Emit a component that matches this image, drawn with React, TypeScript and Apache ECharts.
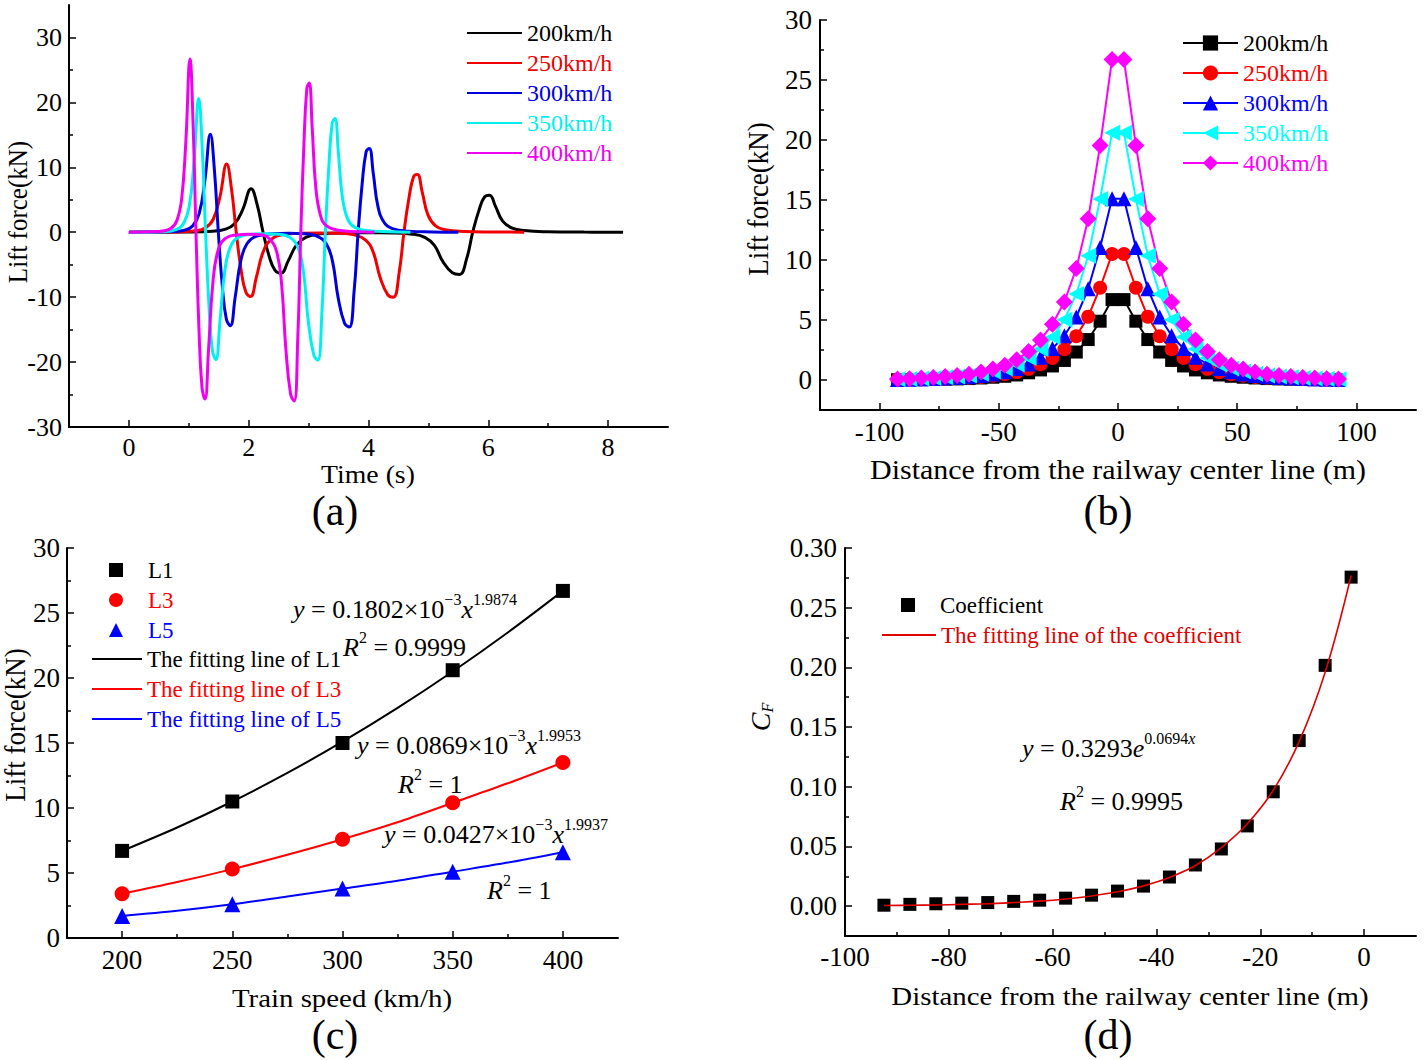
import React, { useEffect, useRef } from 'react';
import * as echarts from 'echarts';

const FONT = "'Liberation Serif','Times New Roman',Times,serif";

// ---------- (a) Lift force vs time ----------
const speeds = ['200km/h', '250km/h', '300km/h', '350km/h', '400km/h'];
const colors = ['#000000', '#ff0000', '#0000ff', '#00ffff', '#ff00ff'];
const colorsA = ['#000000', '#f00000', '#0000dd', '#00f0f0', '#f000f0'];

const t200 = [0, 1.0, 1.4, 1.6, 1.76, 1.9, 2.04, 2.14, 2.24, 2.34, 2.44, 2.54, 2.66, 2.8, 2.96, 3.2, 3.6, 4.0, 4.4, 4.7, 4.94, 5.1, 5.24, 5.4, 5.52, 5.64, 5.74, 5.84, 5.94, 6.02, 6.12, 6.24, 6.4, 6.6, 7.0, 7.6, 8.25];
const f200 = [0, 0.03, 0.15, 0.45, 1.27, 3.48, 6.7, 4.29, 0, -3.65, -5.86, -6.3, -4.41, -1.95, -0.76, -0.25, -0.1, -0.08, -0.1, -0.26, -0.78, -2.02, -4.49, -6.24, -6.5, -4.03, 0, 3.25, 5.47, 5.7, 3.99, 1.71, 0.63, 0.25, 0.07, 0.02, 0];
const t250 = [0, 0.8, 1.12, 1.28, 1.408, 1.52, 1.632, 1.712, 1.792, 1.872, 1.952, 2.032, 2.128, 2.24, 2.368, 2.56, 2.88, 3.2, 3.52, 3.76, 3.952, 4.08, 4.192, 4.32, 4.416, 4.512, 4.592, 4.672, 4.752, 4.816, 4.896, 4.992, 5.12, 5.28, 5.6, 6.08, 6.6];
const f250 = [0, 0.04, 0.23, 0.7, 2.0, 5.46, 10.5, 6.72, 0, -5.74, -9.21, -9.9, -6.93, -3.07, -1.19, -0.4, -0.16, -0.12, -0.15, -0.4, -1.2, -3.1, -6.9, -9.6, -10.0, -6.2, 0, 5.07, 8.54, 8.9, 6.23, 2.67, 0.98, 0.38, 0.12, 0.04, 0];
const t300 = [0, 0.667, 0.933, 1.067, 1.173, 1.267, 1.36, 1.427, 1.493, 1.56, 1.627, 1.693, 1.773, 1.867, 1.973, 2.133, 2.4, 2.667, 2.933, 3.133, 3.293, 3.4, 3.493, 3.6, 3.68, 3.76, 3.827, 3.893, 3.96, 4.013, 4.08, 4.16, 4.267, 4.4, 4.667, 5.067, 5.5];
const f300 = [0, 0.06, 0.33, 1.01, 2.87, 7.85, 15.1, 9.66, 0, -8.35, -13.39, -14.4, -10.08, -4.46, -1.73, -0.58, -0.23, -0.17, -0.22, -0.58, -1.75, -4.53, -10.07, -14.02, -14.6, -9.05, 0, 7.35, 12.38, 12.9, 9.03, 3.87, 1.42, 0.55, 0.17, 0.05, 0];
const t350 = [0, 0.571, 0.8, 0.914, 1.006, 1.086, 1.166, 1.223, 1.28, 1.337, 1.394, 1.451, 1.52, 1.6, 1.691, 1.829, 2.057, 2.286, 2.514, 2.686, 2.823, 2.914, 2.994, 3.086, 3.154, 3.223, 3.28, 3.337, 3.394, 3.44, 3.497, 3.566, 3.657, 3.771, 4.0, 4.343, 4.7];
const f350 = [0, 0.08, 0.45, 1.38, 3.91, 10.71, 20.6, 13.18, 0, -11.37, -18.23, -19.6, -13.72, -6.08, -2.35, -0.78, -0.31, -0.24, -0.3, -0.79, -2.36, -6.11, -13.59, -18.91, -19.7, -12.21, 0, 9.98, 16.8, 17.5, 12.25, 5.25, 1.93, 0.75, 0.23, 0.07, 0];
const t400 = [0, 0.5, 0.7, 0.8, 0.88, 0.95, 1.02, 1.07, 1.12, 1.17, 1.22, 1.27, 1.33, 1.4, 1.48, 1.6, 1.8, 2.0, 2.2, 2.35, 2.47, 2.55, 2.62, 2.7, 2.76, 2.82, 2.87, 2.92, 2.97, 3.01, 3.06, 3.12, 3.2, 3.3, 3.5, 3.8, 4.1];
const f400 = [0, 0.11, 0.59, 1.79, 5.07, 13.88, 26.7, 17.09, 0, -14.91, -23.9, -25.7, -17.99, -7.97, -3.08, -1.03, -0.41, -0.31, -0.39, -1.04, -3.12, -8.06, -17.94, -24.96, -26.0, -16.12, 0, 13.11, 22.08, 23.0, 16.1, 6.9, 2.53, 0.99, 0.3, 0.09, 0];
const timesA = [t200, t250, t300, t350, t400];
const liftsA = [f200, f250, f300, f350, f400];

// ---------- (b) Lift force vs distance ----------
const distB = [-92.5, -87.5, -82.5, -77.5, -72.5, -67.5, -62.5, -57.5, -52.5, -47.5, -42.5, -37.5, -32.5, -27.5, -22.5, -17.5, -12.5, -7.5, -2.5,
  2.5, 7.5, 12.5, 17.5, 22.5, 27.5, 32.5, 37.5, 42.5, 47.5, 52.5, 57.5, 62.5, 67.5, 72.5, 77.5, 82.5, 87.5, 92.5];
// values from the centre line outwards (profile is symmetric)
const b200 = [6.7, 4.9, 3.37, 2.33, 1.63, 1.17, 0.84, 0.6, 0.42, 0.31, 0.23, 0.17, 0.12, 0.09, 0.07, 0.05, 0.04, 0.03, 0.02];
const b250 = [10.5, 7.69, 5.28, 3.65, 2.56, 1.83, 1.31, 0.93, 0.66, 0.48, 0.36, 0.26, 0.19, 0.15, 0.12, 0.08, 0.06, 0.04, 0.03];
const b300 = [15.1, 11.05, 7.6, 5.25, 3.68, 2.63, 1.89, 1.34, 0.95, 0.69, 0.51, 0.38, 0.27, 0.21, 0.17, 0.12, 0.09, 0.06, 0.05];
const b350 = [20.6, 15.08, 10.36, 7.17, 5.03, 3.58, 2.58, 1.83, 1.3, 0.95, 0.7, 0.52, 0.37, 0.29, 0.23, 0.16, 0.12, 0.08, 0.06];
const b400 = [26.7, 19.54, 13.43, 9.29, 6.51, 4.65, 3.34, 2.38, 1.68, 1.23, 0.91, 0.67, 0.48, 0.37, 0.29, 0.21, 0.16, 0.11, 0.08];
const liftsB = [b200, b250, b300, b350, b400];
const symbolsB = ['rect', 'circle', 'triangle', 'triangle', 'diamond'];
const symbolSizesB = [13, 14, 15, 16, 17];
const symbolRotB = [0, 0, 0, 90, 0];

// ---------- (c) Lift force vs train speed ----------
const speedC = [200, 250, 300, 350, 400];
const l1 = [6.7, 10.5, 15.0, 20.6, 26.7];
const l3 = [3.4, 5.3, 7.6, 10.4, 13.5];
const l5 = [1.7, 2.6, 3.8, 5.1, 6.6];
const speedFit = [200, 225, 250, 275, 300, 325, 350, 375, 400];
const fitL1 = [6.7, 8.5, 10.5, 12.7, 15.1, 17.7, 20.5, 23.5, 26.7];
const fitL3 = [3.4, 4.3, 5.3, 6.4, 7.6, 8.9, 10.4, 11.9, 13.5];
const fitL5 = [1.7, 2.1, 2.6, 3.2, 3.8, 4.4, 5.1, 5.8, 6.6];

// ---------- (d) Coefficient ----------
const distD = [-92.5, -87.5, -82.5, -77.5, -72.5, -67.5, -62.5, -57.5, -52.5, -47.5, -42.5, -37.5, -32.5, -27.5, -22.5, -17.5, -12.5, -7.5, -2.5];
const coefD = [0.0008, 0.0015, 0.002, 0.0025, 0.003, 0.004, 0.005, 0.0067, 0.0092, 0.0126, 0.0168, 0.0244, 0.0345, 0.0479, 0.0672, 0.0958, 0.1387, 0.2017, 0.2756];
const fitD = [0.0005, 0.0007, 0.001, 0.0015, 0.002, 0.003, 0.0042, 0.006, 0.0085, 0.012, 0.017, 0.024, 0.034, 0.049, 0.069, 0.097, 0.138, 0.196, 0.277];

// tick values
const ticksAx = [0, 2, 4, 6, 8], minorAx = [1, 3, 5, 7];
const ticksAy = [-30, -20, -10, 0, 10, 20, 30], minorAy = [-25, -15, -5, 5, 15, 25];
const ticksBx = [-100, -50, 0, 50, 100], minorBx = [-75, -25, 25, 75];
const ticksBy = [0, 5, 10, 15, 20, 25, 30], minorBy = [2.5, 7.5, 12.5, 17.5, 22.5, 27.5];
const ticksCx = [200, 250, 300, 350, 400], minorCx = [225, 275, 325, 375];
const ticksCy = [0, 5, 10, 15, 20, 25, 30], minorCy = [2.5, 7.5, 12.5, 17.5, 22.5, 27.5];
const ticksDx = [-100, -80, -60, -40, -20, 0], minorDx = [-90, -70, -50, -30, -10];
const ticksDy = [0, 0.05, 0.1, 0.15, 0.2, 0.25, 0.3], minorDy = [0.025, 0.075, 0.125, 0.175, 0.225, 0.275];

const pairs = (xs: number[], ys: number[]) => xs.map((x, i) => [x, ys[i]]);
const mirror = (half: number[]) => [...half].reverse().concat(half);

function axisPair(grid: number, dim: 'x' | 'y', min: number, max: number, major: number[], minor: number[], fontSize: number, margin: number, fmt?: (v: number) => string) {
  const position = dim === 'x' ? 'bottom' : 'left';
  const tickStyle = { color: '#000', width: 1.5 };
  return [
    {
      type: 'value', gridIndex: grid, min, max, position,
      axisLine: { show: true, onZero: false, lineStyle: { color: '#000', width: 2 } },
      axisTick: { show: true, inside: true, length: 7, customValues: major, lineStyle: tickStyle },
      axisLabel: {
        show: true, customValues: major, color: '#000', fontFamily: FONT, fontSize, margin,
        formatter: fmt || ((v: number) => String(v)),
      },
      splitLine: { show: false },
    },
    {
      type: 'value', gridIndex: grid, min, max, position,
      axisLine: { show: false, onZero: false },
      axisTick: { show: true, inside: true, length: 4, customValues: minor, lineStyle: tickStyle },
      axisLabel: { show: false, customValues: minor },
      splitLine: { show: false },
    },
  ];
}

const SX = 1.11;
const txt = (text: string, x: number, y: number, size: number, rotate = false, stretch = SX) => ({
  type: 'text', x, y, rotation: rotate ? Math.PI / 2 : 0, scaleX: rotate ? 1 : stretch, scaleY: rotate ? stretch : 1,
  style: { text, fill: '#000', fontFamily: FONT, fontSize: size, align: 'center', verticalAlign: 'middle' },
});

const richStyles = {
  i: { fontFamily: FONT, fontSize: 26, fontStyle: 'italic', lineHeight: 36, fill: '#000' },
  s: { fontFamily: FONT, fontSize: 16, lineHeight: 16, verticalAlign: 'top', fill: '#000' },
  si: { fontFamily: FONT, fontSize: 16, fontStyle: 'italic', lineHeight: 16, verticalAlign: 'top', fill: '#000' },
};
const formula = (text: string, x: number, y: number) => ({
  type: 'text', x, y, scaleX: 1.0,
  style: { text, fill: '#000', fontFamily: FONT, fontSize: 26, lineHeight: 36, align: 'left', verticalAlign: 'middle', rich: richStyles },
});

export default function App() {
  const ref = useRef<HTMLDivElement>(null);
  useEffect(() => {
    if (!ref.current) return;
    const chart = echarts.init(ref.current, undefined, { renderer: 'svg' });

    const xAxes = [
      ...axisPair(0, 'x', -1, 9, ticksAx, minorAx, 26, 7),
      ...axisPair(1, 'x', -125, 125, ticksBx, minorBx, 27, 8),
      ...axisPair(2, 'x', 175, 425, ticksCx, minorCx, 27, 8),
      ...axisPair(3, 'x', -100, 10, ticksDx, minorDx, 27, 7),
    ];
    const yAxes = [
      ...axisPair(0, 'y', -30, 35, ticksAy, minorAy, 26, 7),
      ...axisPair(1, 'y', -2.5, 30, ticksBy, minorBy, 27, 8),
      ...axisPair(2, 'y', 0, 30, ticksCy, minorCy, 27, 7),
      ...axisPair(3, 'y', -0.025, 0.3, ticksDy, minorDy, 27, 8, (v: number) => v.toFixed(2)),
    ];

    const seriesA = speeds.map((name, i) => ({
      type: 'line', name, xAxisIndex: 0, yAxisIndex: 0,
      data: pairs(timesA[i], liftsA[i]), symbol: 'none', smooth: 0.45,
      lineStyle: { color: colorsA[i], width: 3 }, itemStyle: { color: colorsA[i] },
    }));
    const seriesB = speeds.map((name, i) => ({
      type: 'line', name: 'b' + name, xAxisIndex: 2, yAxisIndex: 2,
      data: pairs(distB, mirror(liftsB[i])), symbol: symbolsB[i], symbolSize: symbolSizesB[i], symbolRotate: symbolRotB[i],
      showAllSymbol: true,
      lineStyle: { color: colors[i], width: 2 }, itemStyle: { color: colors[i], borderWidth: 0, opacity: 1 },
    }));
    const fitColorsC = ['#000000', '#ff0000', '#0000ff'];
    const fitNames = ['The fitting line of L1', 'The fitting line of L3', 'The fitting line of L5'];
    const fitsC = [fitL1, fitL3, fitL5];
    const seriesCfit = fitNames.map((name, i) => ({
      type: 'line', name, xAxisIndex: 4, yAxisIndex: 4, data: pairs(speedFit, fitsC[i]),
      symbol: 'none', smooth: 0.3, lineStyle: { color: fitColorsC[i], width: 2 }, itemStyle: { color: fitColorsC[i] },
    }));
    const ptNames = ['L1', 'L3', 'L5'];
    const ptsC = [l1, l3, l5];
    const ptSym = ['rect', 'circle', 'triangle'];
    const ptSize = [14, 15, 16];
    const seriesCpt = ptNames.map((name, i) => ({
      type: 'scatter', name, xAxisIndex: 4, yAxisIndex: 4, data: pairs(speedC, ptsC[i]),
      symbol: ptSym[i], symbolSize: ptSize[i],
      itemStyle: { color: fitColorsC[i], opacity: 1 }, z: 3,
    }));
    const seriesD = [
      {
        type: 'line', name: 'The fitting line of the coefficient', xAxisIndex: 6, yAxisIndex: 6,
        data: pairs(distD, fitD), symbol: 'none', smooth: 0.4,
        lineStyle: { color: '#e00000', width: 1.6 }, itemStyle: { color: '#e00000' }, z: 4,
      },
      {
        type: 'scatter', name: 'Coefficient', xAxisIndex: 6, yAxisIndex: 6,
        data: pairs(distD, coefD), symbol: 'rect', symbolSize: 13,
        itemStyle: { color: '#000', opacity: 1 }, z: 3,
      },
    ];

    const legendBase = { orient: 'vertical', padding: 0, itemGap: 6, selectedMode: false };
    const legText = (size: number, pad = 0) => ({ fontFamily: FONT, fontSize: size, lineHeight: 24, padding: [0, 0, 0, pad] });

    chart.setOption({
      animation: false,
      backgroundColor: '#ffffff',
      grid: [
        { left: 69, top: 5, width: 599, height: 422, outerBoundsMode: 'none' },
        { left: 820, top: 20, width: 596, height: 390, outerBoundsMode: 'none' },
        { left: 67, top: 548, width: 551, height: 390, outerBoundsMode: 'none' },
        { left: 845, top: 548, width: 571, height: 388, outerBoundsMode: 'none' },
      ],
      xAxis: xAxes,
      yAxis: yAxes,
      legend: [
        {
          ...legendBase, left: 466, top: 21, itemWidth: 55, itemHeight: 14, textStyle: legText(24),
          data: speeds.map((n, i) => ({ name: n, itemStyle: { opacity: 0 }, textStyle: { color: colorsA[i] } })),
        },
        {
          ...legendBase, left: 1182, top: 31, itemWidth: 55, itemHeight: 19, textStyle: legText(24),
          formatter: (n: string) => n.slice(1),
          data: speeds.map((n, i) => ({ name: 'b' + n, textStyle: { color: colors[i] } })),
        },
        {
          ...legendBase, left: 109, top: 558, itemWidth: 14, itemHeight: 14, textStyle: legText(23, 20),
          data: ptNames.map((n, i) => ({ name: n, icon: ptSym[i], textStyle: { color: fitColorsC[i] } })),
        },
        {
          ...legendBase, left: 91, top: 647, itemWidth: 50, itemHeight: 14, textStyle: legText(23),
          data: fitNames.map((n, i) => ({ name: n, itemStyle: { opacity: 0 }, textStyle: { color: fitColorsC[i] } })),
        },
        {
          ...legendBase, left: 901, top: 593, itemWidth: 14, itemHeight: 14, textStyle: legText(23, 20),
          data: [{ name: 'Coefficient', icon: 'rect', textStyle: { color: '#000' } }],
        },
        {
          ...legendBase, left: 881, top: 623, itemWidth: 54, itemHeight: 14, textStyle: legText(23),
          data: [{ name: 'The fitting line of the coefficient', itemStyle: { opacity: 0 }, textStyle: { color: '#e00000' } }],
        },
      ],
      series: [...seriesA, ...seriesB, ...seriesCfit, ...seriesCpt, ...seriesD],
      graphic: [
        txt('Lift force(kN)', 18, 212, 25, true),
        txt('Time (s)', 368, 474, 25),
        txt('(a)', 335, 511, 42, false, 1),
        txt('Lift force(kN)', 758, 199, 27, true),
        txt('Distance from the railway center line (m)', 1118, 470, 27),
        txt('(b)', 1108, 511, 42, false, 1),
        txt('Lift force(kN)', 15, 725, 27, true),
        txt('Train speed (km/h)', 342, 998, 26),
        txt('(c)', 335, 1035, 42, false, 1),
        txt('Distance from the railway center line (m)', 1130, 996, 26),
        txt('(d)', 1108, 1035, 42, false, 1),
        {
          type: 'text', x: 760, y: 717, rotation: Math.PI / 2,
          style: {
            text: '{c|C}{f|F}', align: 'center', verticalAlign: 'middle', fill: '#000', fontFamily: FONT, fontSize: 28,
            rich: {
              c: { fontFamily: FONT, fontSize: 28, fontStyle: 'italic', lineHeight: 30 },
              f: { fontFamily: FONT, fontSize: 16, fontStyle: 'italic', lineHeight: 16, verticalAlign: 'bottom' },
            },
          },
        },
        formula('{i|y} = 0.1802×10{s|−3}{i|x}{s|1.9874}', 293, 609),
        formula('{i|R}{s|2} = 0.9999', 343, 647),
        formula('{i|y} = 0.0869×10{s|−3}{i|x}{s|1.9953}', 357, 745),
        formula('{i|R}{s|2} = 1', 398, 784),
        formula('{i|y} = 0.0427×10{s|−3}{i|x}{s|1.9937}', 384, 834),
        formula('{i|R}{s|2} = 1', 487, 890),
        formula('{i|y} = 0.3293{i|e}{s|0.0694}{si|x}', 1022, 748),
        formula('{i|R}{s|2} = 0.9995', 1060, 801),
      ],
    });
    return () => chart.dispose();
  }, []);
  return <div ref={ref} style={{ position: 'absolute', left: 0, top: 0, width: 1424, height: 1060, background: '#fff' }} />;
}
